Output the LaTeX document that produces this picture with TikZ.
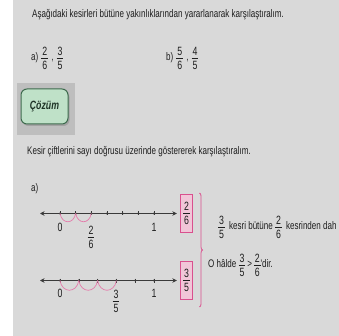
\documentclass[tikz,border=0pt]{standalone}
\usepackage{fontspec}
\setmainfont{Liberation Sans}
\newfontfamily\nf[FakeStretch=0.73]{Liberation Sans}
\usetikzlibrary{arrows.meta,decorations.pathreplacing,shadows,calc}
\definecolor{bg}{HTML}{D9D9D9}
\definecolor{shadebox}{HTML}{BEBEBE}
\definecolor{txt}{HTML}{1E1E1E}
\definecolor{linec}{HTML}{3A3A3A}
\definecolor{arcc}{HTML}{E47BAA}
\definecolor{pinkb}{HTML}{D9508E}
\definecolor{pinkf}{HTML}{F1C6D8}
\definecolor{btnf}{HTML}{BFE1C8}
\definecolor{btnd}{HTML}{3E6B4E}
\definecolor{btnt}{HTML}{1E3326}
\newcommand\fr[2]{\ensuremath{\vcenter{\fontsize{12}{14}\selectfont\offinterlineskip\halign{\hfil\kern1pt##\kern1pt\hfil\cr\vphantom{0}#1\cr\noalign{\kern2.4pt\hrule height .6pt\kern2.4pt}\vphantom{0}#2\cr}}}}
\tikzset{
  txtnode/.style={inner sep=0pt,text=txt,font=\nf\fontsize{11}{13}\selectfont},
  digit/.style={inner sep=0pt,text=txt,font=\nf\fontsize{12}{14}\selectfont},
  numline/.style={draw=linec,line width=0.8pt,{Stealth[length=4.5pt,width=4.5pt]}-{Stealth[length=4.5pt,width=4.5pt]}},
  hop/.style={draw=arcc,line width=0.7pt},
  fracbox/.style={draw=pinkb,fill=pinkf,line width=0.8pt,inner sep=1pt,minimum width=12.5pt,minimum height=38pt,text=txt,font=\nf},
  btn/.style={draw=btnd,fill=btnf,line width=1pt,rounded corners=6pt,minimum width=47pt,minimum height=35pt,text=btnt,font=\nf\bfseries\itshape\fontsize{12}{14}\selectfont,drop shadow={shadow xshift=1.5pt,shadow yshift=-2pt,opacity=0.45}}
}
\begin{document}
\begin{tikzpicture}[x=1pt,y=-1pt]
\useasboundingbox (0,0) rectangle (339,336);
\fill[bg] (13,0) rectangle (339,336);
% question
\node[txtnode,anchor=west] (t1) at (32,15) {Aşağıdaki kesirleri bütüne yakınlıklarından yararlanarak karşılaştıralım.};
\node[txtnode,anchor=west] (qa) at (31,58) {a)\;\fr{2}{6}\;,\;\fr{3}{5}};
\node[txtnode,anchor=west] (qb) at (166,58) {b)\;\fr{5}{6}\;,\;\fr{4}{5}};
% button
\fill[shadebox] (17,83) rectangle (75,135);
\node[btn] (cozum) at (44.5,106.5) {Çözüm};
\node[txtnode,anchor=west] (t2) at (27,152) {Kesir çiftlerini sayı doğrusu üzerinde göstererek karşılaştıralım.};
\node[txtnode,anchor=west] (a2) at (31,189) {a)};
% line 1
\node[fracbox] (b1) at (186.5,213.5) {\fr{2}{6}};
\coordinate (L1) at (40,213.5);
\draw[numline,shorten >=3pt] (L1) -- (b1.west);
\foreach \k in {0,...,6}{
  \coordinate (A\k) at ({60+15.67*\k},213.5);
  \fill[linec] (A\k) circle (1.2pt);
  \draw[linec,line width=0.6pt] ($(A\k)+(0,-2)$) -- ($(A\k)+(0,2)$);
}
\draw[hop] (A0) .. controls +(2,11) and +(-2,11) .. (A1);
\draw[hop] (A1) .. controls +(2,11) and +(-2,11) .. (A2);
\node[digit] (z1) at (60,227) {0};
\node[digit] (o1) at (154,227) {1};
\node[txtnode] (f1) at (91,237) {\fr{2}{6}};
% line 2
\node[fracbox] (b2) at (186.5,280.5) {\fr{3}{5}};
\coordinate (L2) at (40,280.5);
\draw[numline,shorten >=3pt] (L2) -- (b2.west);
\foreach \k in {0,...,5}{
  \coordinate (B\k) at ({60+18.8*\k},280.5);
  \fill[linec] (B\k) circle (1.2pt);
  \draw[linec,line width=0.6pt] ($(B\k)+(0,-2)$) -- ($(B\k)+(0,2)$);
}
\draw[hop] (B0) .. controls +(2,13) and +(-2,13) .. (B1);
\draw[hop] (B1) .. controls +(2,13) and +(-2,13) .. (B2);
\draw[hop] (B2) .. controls +(2,13) and +(-2,13) .. (B3);
\node[digit] (z2) at (60,293) {0};
\node[digit] (o2) at (154,293) {1};
\node[txtnode] (f2) at (116,301) {\fr{3}{5}};
% brace
\coordinate (brT) at (199.5,193);
\coordinate (brB) at (199.5,307);
\draw[pinkb,line width=0.8pt,decorate,decoration={brace,amplitude=3pt}] (brT) -- (brB);
% conclusions
\node[txtnode,anchor=west] (r1) at (218,227) {\fr{3}{5}\, kesri bütüne \fr{2}{6}\, kesrinden dah};
\node[txtnode,anchor=west] (r2) at (208,265) {O hâlde \fr{3}{5}\,>\,\fr{2}{6}'dir.};
\end{tikzpicture}
\end{document}
